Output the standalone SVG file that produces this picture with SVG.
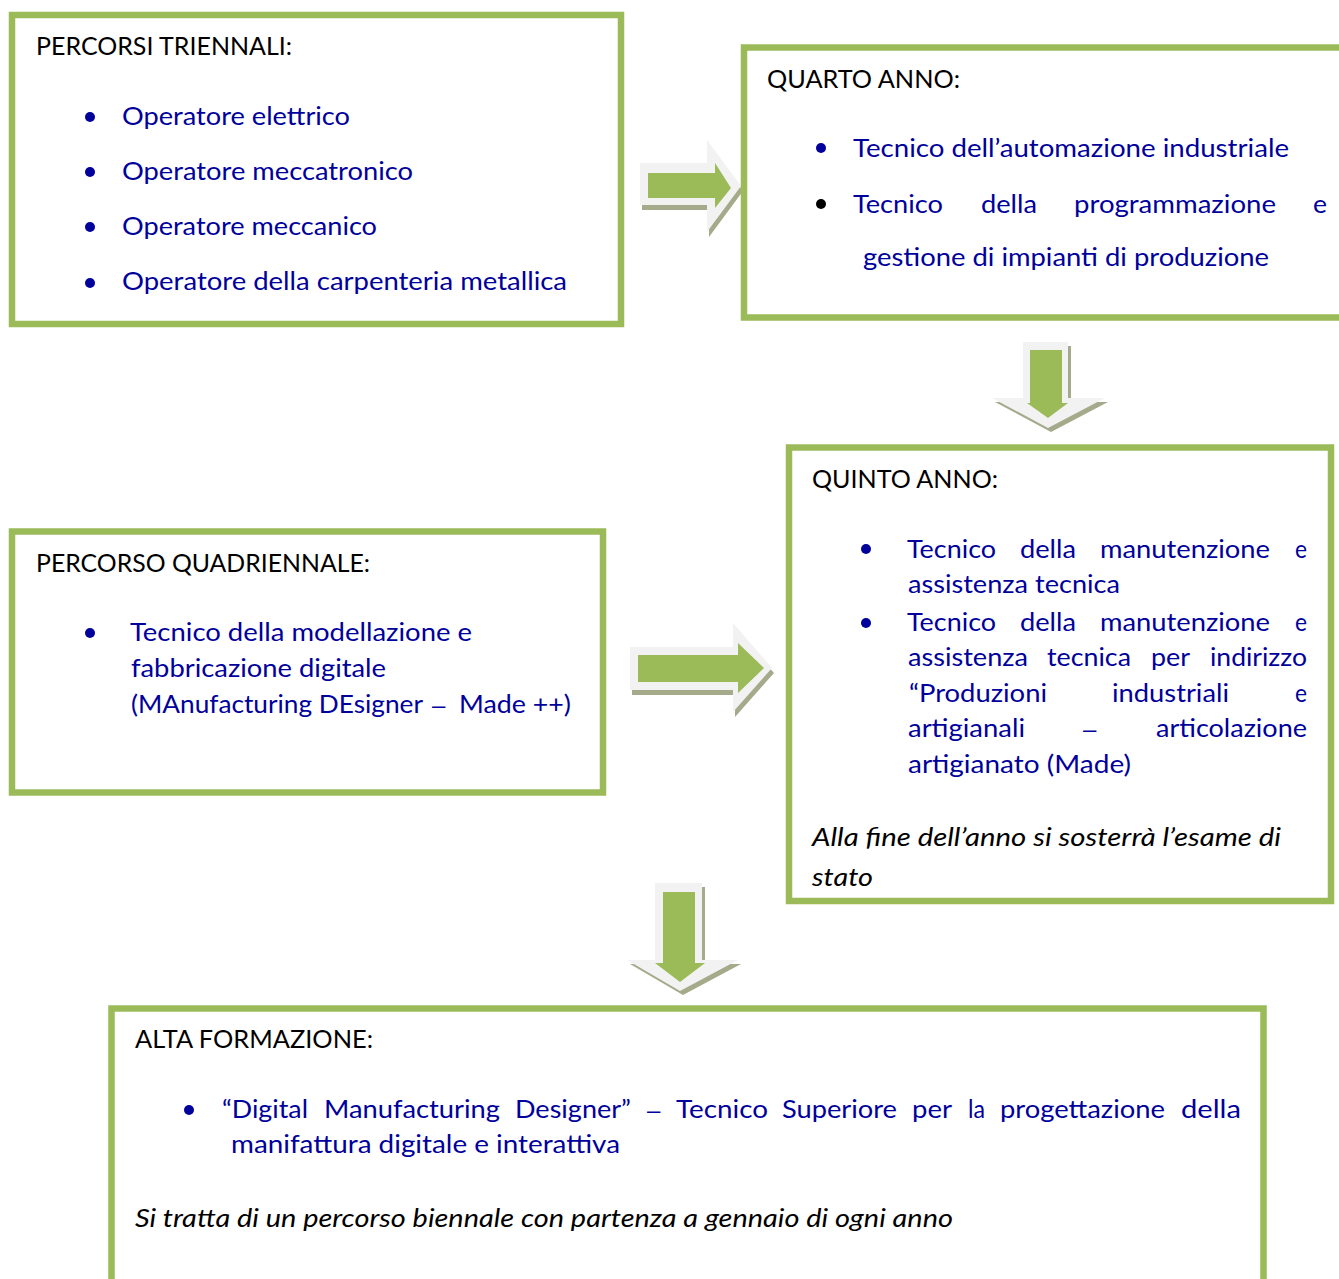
<svg xmlns="http://www.w3.org/2000/svg" width="1339" height="1279" viewBox="0 0 1339 1279">
<style>
.box{fill:#fff;stroke:#9bbb59;stroke-width:6.5}
text{font-family:Lato,"Open Sans","Liberation Sans",sans-serif;font-size:24.5px}
.h{fill:#000}
.b{fill:#00009c}
.i{fill:#000;font-style:italic}
.dash{font-family:"Liberation Sans",Arial,sans-serif;font-size:24px}
.dot{fill:#00009c}
.sh{fill:#a4aa8a}
.ol{fill:#f2f2f2}
.gr{fill:#9bbb59}
</style>
<rect width="1339" height="1279" fill="#fff"/>
<g id="connectors">
  <g id="arrow-r1">
    <path class="sh" transform="translate(2,5)" d="M640,163 H707 V140 L741,186 L707,232 V205 H640 Z"/>
    <path class="ol" d="M640,163 H707 V140 L741,186 L707,232 V205 H640 Z"/>
    <path class="gr" d="M648,173 H715 V163 L731,188 L715,208 V198 H648 Z"/>
  </g>
  <g id="arrow-d1">
    <path class="sh" transform="translate(3,4)" d="M1023,342 H1068 V398 H1105 L1048,428 L992,398 H1023 Z"/>
    <path class="ol" d="M1023,342 H1068 V398 H1105 L1048,428 L992,398 H1023 Z"/>
    <path class="gr" d="M1030,350 H1062 V403 H1068 L1048,418 L1027,403 H1030 Z"/>
  </g>
  <g id="arrow-r2">
    <path class="sh" transform="translate(2,5)" d="M630,647 H733 V623 L772,668 L733,712 V690 H630 Z"/>
    <path class="ol" d="M630,647 H733 V623 L772,668 L733,712 V690 H630 Z"/>
    <path class="gr" d="M638,655 H738 V643 L764,668 L738,693 V682 H638 Z"/>
  </g>
  <g id="arrow-d2">
    <path class="sh" transform="translate(3,4)" d="M655,883 H702 V960 H738 L680,991 L627,960 H655 Z"/>
    <path class="ol" d="M655,883 H702 V960 H738 L680,991 L627,960 H655 Z"/>
    <path class="gr" d="M663,892 H695 V963 H705 L680,982 L655,963 H663 Z"/>
  </g>
</g>
<g id="node-triennali">
  <rect class="box" x="12" y="15" width="609" height="309"/>
  <text class="h" x="36" y="55" textLength="256" lengthAdjust="spacingAndGlyphs">PERCORSI TRIENNALI:</text>
  <circle class="dot" cx="90" cy="117" r="5"/>
  <circle class="dot" cx="90" cy="172" r="5"/>
  <circle class="dot" cx="90" cy="227" r="5"/>
  <circle class="dot" cx="90" cy="283" r="5"/>
  <text class="b" x="122" y="125" textLength="228" lengthAdjust="spacingAndGlyphs">Operatore elettrico</text>
  <text class="b" x="122" y="180" textLength="291" lengthAdjust="spacingAndGlyphs">Operatore meccatronico</text>
  <text class="b" x="122" y="235" textLength="255" lengthAdjust="spacingAndGlyphs">Operatore meccanico</text>
  <text class="b" x="122" y="290" textLength="445" lengthAdjust="spacingAndGlyphs">Operatore della carpenteria metallica</text>
</g>
<g id="node-quarto">
  <rect class="box" x="744" y="47.5" width="620" height="270"/>
  <text class="h" x="767" y="88" textLength="193" lengthAdjust="spacingAndGlyphs">QUARTO ANNO:</text>
  <circle class="dot" cx="821" cy="148" r="5"/>
  <circle cx="821" cy="204" r="5" fill="#000"/>
  <text class="b" x="853" y="157" textLength="436" lengthAdjust="spacingAndGlyphs">Tecnico dell’automazione industriale</text>
  <text class="b" y="213"><tspan x="853" textLength="90" lengthAdjust="spacingAndGlyphs">Tecnico</tspan><tspan x="981" textLength="56" lengthAdjust="spacingAndGlyphs">della</tspan><tspan x="1074" textLength="202" lengthAdjust="spacingAndGlyphs">programmazione</tspan><tspan x="1313" textLength="14" lengthAdjust="spacingAndGlyphs">e</tspan></text>
  <text class="b" x="863" y="266" textLength="406" lengthAdjust="spacingAndGlyphs">gestione di impianti di produzione</text>
</g>
<g id="node-quinto">
  <rect class="box" x="789" y="447.5" width="542" height="453.5"/>
  <text class="h" x="812" y="488" textLength="186" lengthAdjust="spacingAndGlyphs">QUINTO ANNO:</text>
  <circle class="dot" cx="866" cy="549" r="5"/>
  <circle class="dot" cx="866" cy="623" r="5"/>
  <text class="b" y="558"><tspan x="907" textLength="89" lengthAdjust="spacingAndGlyphs">Tecnico</tspan><tspan x="1020" textLength="56" lengthAdjust="spacingAndGlyphs">della</tspan><tspan x="1100" textLength="170" lengthAdjust="spacingAndGlyphs">manutenzione</tspan><tspan x="1295" textLength="12" lengthAdjust="spacingAndGlyphs">e</tspan></text>
  <text class="b" x="908" y="593" textLength="212" lengthAdjust="spacingAndGlyphs">assistenza tecnica</text>
  <text class="b" y="631"><tspan x="907" textLength="89" lengthAdjust="spacingAndGlyphs">Tecnico</tspan><tspan x="1020" textLength="56" lengthAdjust="spacingAndGlyphs">della</tspan><tspan x="1100" textLength="170" lengthAdjust="spacingAndGlyphs">manutenzione</tspan><tspan x="1295" textLength="12" lengthAdjust="spacingAndGlyphs">e</tspan></text>
  <text class="b" y="666"><tspan x="908" textLength="120" lengthAdjust="spacingAndGlyphs">assistenza</tspan><tspan x="1047" textLength="84" lengthAdjust="spacingAndGlyphs">tecnica</tspan><tspan x="1151" textLength="39" lengthAdjust="spacingAndGlyphs">per</tspan><tspan x="1210" textLength="97" lengthAdjust="spacingAndGlyphs">indirizzo</tspan></text>
  <text class="b" y="702"><tspan x="909" textLength="138" lengthAdjust="spacingAndGlyphs">“Produzioni</tspan><tspan x="1112" textLength="117" lengthAdjust="spacingAndGlyphs">industriali</tspan><tspan x="1295" textLength="12" lengthAdjust="spacingAndGlyphs">e</tspan></text>
  <text class="b" y="737"><tspan x="908" textLength="117" lengthAdjust="spacingAndGlyphs">artigianali</tspan><tspan class="dash" x="1083">–</tspan><tspan x="1156" textLength="151" lengthAdjust="spacingAndGlyphs">articolazione</tspan></text>
  <text class="b" x="908" y="773" textLength="223" lengthAdjust="spacingAndGlyphs">artigianato (Made)</text>
  <text class="i" x="812" y="846" textLength="469" lengthAdjust="spacingAndGlyphs">Alla fine dell’anno si sosterrà l’esame di</text>
  <text class="i" x="812" y="886" textLength="61" lengthAdjust="spacingAndGlyphs">stato</text>
</g>
<g id="node-quadriennale">
  <rect class="box" x="12" y="531.5" width="591" height="261"/>
  <text class="h" x="36" y="572" textLength="334" lengthAdjust="spacingAndGlyphs">PERCORSO QUADRIENNALE:</text>
  <circle class="dot" cx="90" cy="633" r="5"/>
  <text class="b" x="130" y="641" textLength="342" lengthAdjust="spacingAndGlyphs">Tecnico della modellazione e</text>
  <text class="b" x="131" y="677" textLength="255" lengthAdjust="spacingAndGlyphs">fabbricazione digitale</text>
  <text class="b" y="713"><tspan x="131" textLength="292" lengthAdjust="spacingAndGlyphs">(MAnufacturing DEsigner</tspan><tspan class="dash" x="432">–</tspan><tspan x="459" textLength="112" lengthAdjust="spacingAndGlyphs">Made ++)</tspan></text>
</g>
<g id="node-alta">
  <rect class="box" x="111.5" y="1008.5" width="1152" height="290"/>
  <text class="h" x="135" y="1048" textLength="238" lengthAdjust="spacingAndGlyphs">ALTA FORMAZIONE:</text>
  <circle class="dot" cx="189" cy="1110" r="5"/>
  <text class="b" y="1118"><tspan x="222" textLength="86" lengthAdjust="spacingAndGlyphs">“Digital</tspan><tspan x="324" textLength="176" lengthAdjust="spacingAndGlyphs">Manufacturing</tspan><tspan x="515" textLength="116" lengthAdjust="spacingAndGlyphs">Designer”</tspan><tspan class="dash" x="647">–</tspan><tspan x="676" textLength="92" lengthAdjust="spacingAndGlyphs">Tecnico</tspan><tspan x="782" textLength="115" lengthAdjust="spacingAndGlyphs">Superiore</tspan><tspan x="912" textLength="40" lengthAdjust="spacingAndGlyphs">per</tspan><tspan x="968" textLength="17" lengthAdjust="spacingAndGlyphs">la</tspan><tspan x="1000" textLength="165" lengthAdjust="spacingAndGlyphs">progettazione</tspan><tspan x="1181" textLength="60" lengthAdjust="spacingAndGlyphs">della</tspan></text>
  <text class="b" x="231" y="1153" textLength="389" lengthAdjust="spacingAndGlyphs">manifattura digitale e interattiva</text>
  <text class="i" x="135" y="1227" textLength="818" lengthAdjust="spacingAndGlyphs">Si tratta di un percorso biennale con partenza a gennaio di ogni anno</text>
</g>
</svg>
